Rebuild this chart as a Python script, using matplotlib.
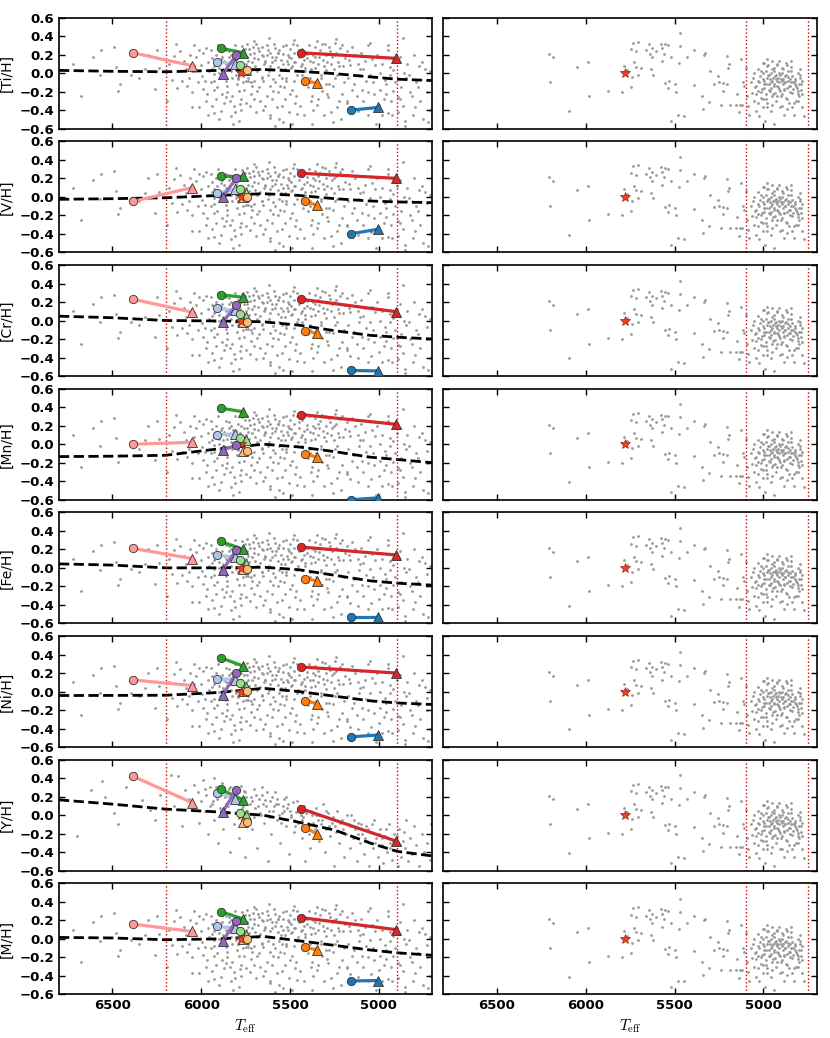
import numpy as np
import matplotlib
matplotlib.use("Agg")
import matplotlib.pyplot as plt

plt.rcParams["mathtext.fontset"] = "cm"
plt.rcParams["font.family"] = ["DejaVu Sans"]

# Rows of the figure
elements = ["Ti", "V", "Cr", "Mn", "Fe", "Ni", "Y", "M"]

# Dashed trend line, sampled at these temperatures
trend_teff = [6800, 6500, 6200, 5900, 5650, 5450, 5250, 5050, 4900, 4700]
trend_ti = [0.03, 0.02, 0.015, 0.03, 0.04, 0.02, -0.005, -0.04, -0.065, -0.08]
trend_v = [-0.027, -0.02, -0.01, 0.015, 0.034, 0.015, -0.02, -0.045, -0.055, -0.063]
trend_cr = [0.047, 0.03, 0.0, -0.005, -0.014, -0.05, -0.11, -0.16, -0.18, -0.2]
trend_mn = [-0.134, -0.13, -0.12, -0.05, 0.0, -0.03, -0.08, -0.14, -0.165, -0.2]
trend_fe = [0.043, 0.03, 0.0, 0.0, 0.007, -0.02, -0.08, -0.14, -0.165, -0.187]
trend_ni = [-0.043, -0.042, -0.04, -0.01, 0.035, 0.0, -0.05, -0.1, -0.123, -0.14]
trend_y = [0.166, 0.12, 0.066, 0.035, 0.0, -0.076, -0.16, -0.3, -0.39, -0.44]
trend_m = [0.016, 0.01, -0.009, 0.0, 0.027, -0.02, -0.07, -0.12, -0.15, -0.177]

# Highlighted stars: circle (one Teff) joined to triangle (other Teff)
pair_colors = ["#ff9896", "#aec7e8", "#2ca02c", "#98df8a", "#9467bd",
               "#ffbb78", "#ff7f0e", "#d62728", "#1f77b4"]
circ_teff = [6383, 5912, 5890, 5781, 5803, 5743, 5415, 5437, 5158]
tri_teff = [6050, 5809, 5762, 5747, 5878, 5762, 5349, 4903, 5006]

circ_ti = [0.22, 0.125, 0.27, 0.085, 0.195, 0.03, -0.085, 0.22, -0.40]
tri_ti = [0.08, 0.10, 0.22, 0.035, -0.01, 0.03, -0.105, 0.16, -0.37]
circ_v = [-0.05, 0.04, 0.22, 0.09, 0.20, 0.0, -0.05, 0.255, -0.40]
tri_v = [0.10, 0.08, 0.22, 0.045, 0.0, 0.0, -0.09, 0.20, -0.35]
circ_cr = [0.23, 0.13, 0.28, 0.075, 0.165, -0.015, -0.11, 0.23, -0.54]
tri_cr = [0.09, 0.11, 0.25, 0.04, -0.015, -0.015, -0.14, 0.095, -0.545]
circ_mn = [0.0, 0.10, 0.39, 0.065, -0.01, -0.07, -0.105, 0.32, -0.60]
tri_mn = [0.02, 0.115, 0.35, 0.045, -0.065, -0.07, -0.14, 0.215, -0.58]
circ_fe = [0.21, 0.14, 0.285, 0.085, 0.19, -0.01, -0.115, 0.225, -0.53]
tri_fe = [0.10, 0.115, 0.20, 0.045, -0.02, -0.01, -0.14, 0.14, -0.53]
circ_ni = [0.125, 0.14, 0.365, 0.095, 0.20, 0.005, -0.10, 0.265, -0.49]
tri_ni = [0.065, 0.13, 0.275, 0.05, -0.04, 0.005, -0.13, 0.20, -0.47]
circ_y = [0.42, 0.245, 0.28, 0.025, 0.27, -0.075, -0.135, 0.07, -0.75]
tri_y = [0.135, 0.18, 0.165, 0.0, 0.04, -0.075, -0.20, -0.28, -0.72]
circ_m = [0.16, 0.135, 0.295, 0.09, 0.195, 0.0, -0.09, 0.23, -0.455]
tri_m = [0.08, 0.12, 0.215, 0.045, -0.02, 0.0, -0.12, 0.10, -0.45]

# Sun
sun_teff = 5777
sun_val = 0.0

# Left-hand sample (dwarfs)
left_teff = [
    6562, 6490, 6481, 6571, 6396, 6678, 6458, 6466, 6316, 6250, 6237, 6261, 6139, 6153, 6162, 6134,
    6096, 6087, 6077, 6049, 6012, 6027, 6002, 5993, 5989, 5974, 5980, 5965, 5955, 5946, 5937, 5927,
    5918, 5909, 5899, 5890, 5880, 5871, 5862, 5852, 5843, 5834, 5824, 5815, 5805, 5796, 5787, 5777,
    5768, 5758, 5749, 5871, 5852, 5927, 5824, 5787,
    6720, 6610, 6350, 6300, 5990, 5960, 5945, 5930, 5915, 5905, 5885, 5875, 5860, 5845, 5830, 5820,
    5810, 5800, 5790, 5780, 5770, 5760, 5755, 6010, 6040, 6060, 6070, 6020, 5975, 5940, 5895, 5855,
    5840, 5810, 5795, 5775, 5765, 5750, 5900, 5820, 5960, 6050, 6110, 6120, 6180, 6190, 6040,
    5744, 5725, 5734, 5706, 5678, 5659, 5697, 5640, 5622, 5603, 5584, 5565, 5537, 5509, 5481, 5518,
    5490, 5734, 5715, 5687, 5669, 5725, 5650, 5631, 5612, 5594, 5575, 5547, 5556, 5528, 5500, 5471,
    5612, 5584, 5537, 5453, 5415, 5387, 5359, 5331, 5303, 5274, 5246, 5218, 5190, 5162, 5134, 5106,
    5077, 5049, 5021, 4993, 4965, 4937, 4862, 4833, 4777, 4730, 4721, 5425, 5378, 5350, 5321, 5284,
    5256, 5237, 5209, 5181, 5153, 5115, 5087, 5059, 5030, 5002, 4974, 4946, 4918, 4890, 4852, 4815,
    4796, 5256, 5378, 5490, 4927, 4852,
    5740, 5730, 5715, 5700, 5690, 5680, 5670, 5660, 5650, 5645, 5630, 5620, 5610, 5600, 5590, 5580,
    5570, 5560, 5550, 5540, 5530, 5520, 5510, 5500, 5495, 5480, 5470, 5460, 5450, 5440, 5430, 5420,
    5405, 5395, 5380, 5370, 5360, 5345, 5335, 5320, 5310, 5300, 5290, 5280, 5265, 5255, 5240, 5230,
    5210, 5200, 5180, 5170, 5150, 5120, 5100, 5090, 5060, 5040, 5010, 4980, 4950, 4920, 4900, 4880,
    4860, 4840, 4800, 4760, 4740,
    5735, 5720, 5705, 5690, 5675, 5660, 5640, 5625, 5615, 5600, 5585, 5570, 5560, 5545, 5535, 5520,
    5505, 5490, 5475, 5465, 5445, 5435, 5420, 5400, 5390, 5370, 5355, 5340, 5325, 5310, 5295, 5270,
    5245, 5225, 5215, 5195, 5175, 5160, 5140, 5125, 5110, 5095, 5070, 5045, 5035, 5015, 4995, 4985,
    4960, 4940, 4930, 4910, 4895, 4875, 4865, 4845, 4825, 4810, 4790, 4770, 4750, 4730, 4715, 4710,
]
left_val = [
    0.25, 0.28, 0.065, -0.02, -0.015, -0.25, -0.12, -0.19, 0.04, 0.25, 0.055, -0.175, 0.315, 0.19, -0.07, -0.16,
    0.13, 0.04, -0.14, -0.37, -0.37, 0.17, 0.086, -0.03, -0.175, 0.27, -0.085, -0.23, 0.02, -0.1, 0.165, -0.43,
    -0.28, -0.15, 0.06, -0.41, -0.23, -0.32, -0.09, -0.14, 0.24, -0.46, -0.25, -0.36, -0.015, -0.12, -0.52, -0.28,
    0.29, -0.18, -0.09, 0.13, 0.06, -0.01, -0.05, -0.19,
    0.1, 0.18, -0.05, 0.2, 0.22, 0.12, 0.25, 0.08, 0.2, 0.3, 0.18, 0.04, 0.25, 0.1, 0.2, 0.15,
    0.3, 0.08, 0.22, 0.12, 0.05, 0.18, 0.26, 0.25, 0.08, 0.2, -0.05, -0.1, -0.3, -0.35, -0.05, -0.2,
    -0.3, -0.42, -0.05, -0.4, -0.1, -0.32, -0.5, -0.55, -0.45, -0.2, -0.08, 0.24, 0.1, -0.3, 0.3,
    0.31, 0.21, 0.13, 0.28, 0.27, 0.2, 0.075, 0.13, 0.255, 0.18, 0.27, 0.22, 0.29, 0.2, 0.315, 0.13,
    0.075, -0.09, -0.14, -0.19, -0.3, -0.36, -0.09, -0.25, -0.14, -0.19, -0.37, -0.05, -0.14, -0.28, -0.23, -0.32,
    -0.48, -0.57, -0.53, 0.02, 0.055, 0.13, 0.18, 0.255, 0.31, 0.235, 0.325, 0.27, 0.165, 0.09, 0.2, 0.04,
    0.13, -0.015, 0.09, 0.0, -0.07, 0.07, 0.38, -0.015, 0.075, -0.07, -0.53, -0.12, -0.25, -0.34, -0.19, -0.26,
    -0.14, -0.37, -0.23, -0.32, -0.18, -0.41, -0.3, -0.45, -0.23, -0.34, -0.28, -0.43, -0.19, -0.26, -0.52, -0.25,
    -0.37, -0.53, -0.55, -0.55, -0.45, -0.57,
    0.18, 0.26, 0.12, 0.22, 0.32, 0.15, 0.05, 0.28, 0.19, 0.1, 0.3, 0.02, 0.22, 0.12, 0.32, 0.18,
    0.07, 0.25, 0.14, 0.21, 0.04, 0.3, 0.1, 0.26, 0.16, 0.22, 0.12, 0.3, 0.18, 0.08, 0.26, 0.14,
    0.21, 0.3, 0.05, 0.2, 0.28, 0.1, 0.17, 0.32, 0.08, 0.2, 0.12, 0.28, 0.18, 0.04, 0.22, 0.12,
    0.3, 0.08, 0.24, 0.14, 0.28, 0.1, 0.22, 0.05, 0.3, 0.15, 0.2, 0.1, 0.25, 0.03, 0.12, 0.18,
    0.0, 0.1, 0.2, 0.12, 0.05,
    -0.05, -0.22, -0.08, -0.42, -0.15, -0.05, -0.35, -0.02, -0.45, -0.28, -0.1, -0.2, -0.02, -0.35, -0.15, -0.05,
    -0.42, -0.18, -0.08, -0.25, -0.35, -0.02, -0.45, -0.15, -0.05, -0.4, -0.1, -0.28, -0.02, -0.45, -0.12, -0.42,
    -0.05, -0.3, -0.5, -0.1, -0.05, -0.38, -0.12, -0.25, -0.02, -0.18, -0.08, -0.38, -0.1, -0.55, -0.18, -0.45,
    -0.12, -0.02, -0.3, -0.1, -0.42, -0.15, -0.35, -0.05, -0.2, -0.45, -0.1, -0.3, -0.5, -0.2, -0.4, 0.02,
]
# denser core of the dwarf sample
left_core_teff = [
    5940, 5925, 5910, 5898, 5886, 5872, 5858, 5846, 5832, 5818, 5806, 5792, 5778, 5762, 5748, 5732,
    5718, 5702, 5688, 5672, 5658, 5642, 5628, 5612, 5598, 5582, 5568, 5552, 5538, 5522, 5508, 5492,
    5478, 5462, 5448, 5432, 5418, 5402, 5388, 5372, 5358, 5342, 5328, 5312, 5298, 5282, 5268, 5252,
    5238, 5222, 5620, 5480, 5350, 5240, 5700, 5050, 4950, 5930, 5860, 5780, 5700, 5650, 5560, 5460,
    5380, 5290, 5180, 5060, 4960, 4880, 4780,
]
left_core_val = [
    0.05, -0.08, 0.12, 0.0, 0.15, -0.02, 0.1, 0.18, 0.02, 0.08, 0.14, -0.06, 0.2, 0.0, 0.1, 0.06,
    -0.1, 0.16, 0.02, 0.24, -0.04, 0.12, 0.2, 0.08, -0.06, 0.14, 0.22, 0.04, 0.1, -0.08, 0.18, 0.06,
    0.12, -0.02, 0.24, 0.1, 0.02, 0.16, -0.1, 0.12, 0.06, 0.22, -0.05, 0.14, 0.03, -0.12, 0.1, 0.2,
    -0.02, 0.08, 0.38, 0.36, 0.35, 0.37, 0.35, 0.33, 0.3, -0.18, -0.26, -0.33, -0.28, -0.4, -0.5, -0.44,
    -0.3, -0.22, -0.3, -0.2, -0.22, -0.28, -0.15,
]

# [Y/H] has its own, steeper cloud
ycloud_teff = [
    6700, 6620, 6560, 6540, 6490, 6470, 6420, 6330, 6290, 6260, 6230, 6170, 6150, 6130, 6110, 6090,
    6070, 6050, 6040, 6020, 6010, 6000, 5990, 5980, 5970, 5960, 5950, 5940, 5930, 5920, 5910, 5905,
    5895, 5885, 5875, 5865, 5855, 5845, 5835, 5825, 5815, 5805, 5795, 5785, 5775, 5765, 5755, 5745,
    5735, 5725, 5715, 5705, 5695, 5685, 5675, 5665, 5655, 5645, 5635, 5625, 5615, 5605, 5595, 5585,
    5575, 5565, 5555, 5545, 5535, 5525, 5515, 5505, 5495, 5485, 5475, 5465, 5455, 5445, 5435, 5425,
    5415, 5405, 5395, 5385, 5375, 5365, 5355, 5345, 5335, 5325, 5315, 5305, 5295, 5285, 5275, 5265,
    5255, 5245, 5235, 5225, 5215, 5205, 5195, 5185, 5175, 5165, 5155, 5145, 5135, 5125, 5115, 5105,
    5095, 5085, 5075, 5065, 5055, 5045, 5035, 5025, 5015, 5005, 4995, 4985, 4975, 4965, 4955, 4945,
    4935, 4925, 4915, 4905, 4895, 4885, 4875, 4865, 4855, 4845, 4835, 4825, 4815, 4805, 4790, 4775,
    4760, 4745, 4730, 4715, 4705,
    5980, 5950, 5925, 5890, 5860, 5840, 5810, 5780, 5760, 5740, 5720, 5700, 5680, 5660, 5640, 5620,
    5600, 5580, 5560, 5540, 5520, 5500, 5480, 5460, 5440, 5420, 5400, 5380, 5360, 5340, 5320, 5300,
    5280, 5260, 5240, 5220, 5200, 5180, 5160, 5140, 5120, 5100, 5080, 5060, 5040, 5020, 5000, 4980,
    4960, 4940, 4920, 4900, 4880, 4860,
    5935, 5915, 5890, 5868, 5850, 5828, 5808, 5790, 5772, 5752, 5730, 5712, 5690, 5670, 5652, 5632,
    5612, 5592, 5572, 5552, 5532, 5512, 5492, 5472, 5452, 5432, 5412, 5392, 5372, 5352,
]
ycloud_val = [
    -0.23, 0.27, 0.37, 0.2, 0.02, -0.1, 0.3, 0.16, 0.06, -0.05, 0.22, 0.43, 0.1, 0.42, -0.12, 0.27,
    0.18, 0.06, 0.33, 0.25, -0.08, 0.15, 0.38, 0.05, 0.22, -0.2, 0.3, 0.12, -0.05, 0.26, 0.18, -0.3,
    0.08, 0.35, -0.15, 0.2, 0.02, 0.28, -0.4, 0.14, -0.1, 0.25, 0.06, -0.25, 0.32, 0.1, -0.45, 0.2,
    0.02, 0.12, -0.15, 0.28, 0.08, -0.35, 0.18, 0.0, 0.22, -0.08, 0.1, -0.5, 0.15, -0.2, 0.05, 0.25,
    -0.05, 0.12, -0.3, 0.02, 0.18, -0.12, 0.08, -0.42, -0.02, 0.14, -0.18, 0.04, -0.08, 0.1, -0.25, -0.02,
    -0.5, 0.06, -0.12, -0.35, 0.0, -0.18, 0.08, -0.05, -0.28, -0.1, 0.12, -0.4, -0.15, 0.02, -0.22, -0.08,
    -0.55, -0.12, 0.05, -0.3, -0.18, -0.05, -0.45, -0.2, -0.1, -0.35, 0.0, -0.25, -0.15, -0.5, -0.08, -0.3,
    -0.2, -0.42, -0.12, -0.28, -0.55, -0.18, -0.35, -0.05, -0.25, -0.45, -0.15, -0.32, -0.52, -0.22, -0.4, -0.1,
    -0.3, -0.48, -0.2, -0.38, -0.55, -0.15, -0.45, -0.28, -0.35, -0.05, -0.5, -0.25, -0.42, -0.12, -0.32, -0.55,
    -0.2, -0.4, -0.3, -0.48, -0.1,
    0.28, 0.1, 0.4, 0.22, 0.12, 0.3, 0.2, 0.15, 0.26, 0.05, 0.2, -0.02, 0.1, 0.3, 0.16, 0.05,
    0.2, 0.12, 0.0, 0.1, 0.2, 0.05, -0.05, 0.15, 0.0, 0.1, -0.08, 0.05, -0.15, 0.0, -0.05, 0.05,
    -0.12, -0.02, -0.18, -0.08, -0.15, 0.0, -0.12, -0.05, -0.2, -0.1, -0.25, -0.15, -0.1, -0.3, -0.2, -0.25,
    -0.15, -0.35, -0.28, -0.22, -0.32, -0.18,
    0.15, 0.3, 0.05, 0.25, 0.1, 0.22, 0.02, 0.18, 0.08, 0.25, -0.05, 0.15, 0.22, 0.02, 0.12, 0.25,
    -0.02, 0.1, 0.18, -0.08, 0.05, 0.12, 0.0, -0.12, 0.08, -0.05, 0.02, -0.2, -0.08, 0.0,
]

# Right-hand sample (giants)
right_teff = [
    6205, 6186, 6201, 6093, 6051, 5986, 5980, 5873, 5793, 5768, 5783, 5740, 5744, 5727, 5746, 5733,
    5708, 5714, 5690, 5718, 5708, 5661, 5646, 5639, 5628, 5624, 5633, 5620, 5605, 5577, 5568, 5558,
    5553, 5534, 5571, 5521, 5555, 5530, 5534, 5498, 5493, 5474, 5468, 5468, 5431, 5393, 5390, 5343,
    5339, 5333, 5330, 5305, 5301, 5277, 5253, 5249, 5240, 5230, 5225, 5206, 5197, 5193, 5202, 5189,
    5155, 5146, 5131, 5137, 5127, 5114, 5118, 5107, 5478, 5446, 5521,
    5099, 5090, 5084, 5080, 5071, 5062, 5052, 5052, 5043, 5033, 5028, 5024, 5015, 5015, 5005, 5005,
    4999, 4996, 4990, 4986, 4983, 4977, 4977, 4972, 4968, 4964, 4958, 4958, 4953, 4949, 4943, 4940,
    4940, 4934, 4930, 4925, 4921, 4915, 4911, 4908, 4902, 4897, 4893, 4889, 4883, 4878, 4874, 4870,
    4865, 4859, 4855, 4852, 4846, 4840, 4837, 4827, 4822, 4818, 4808, 4803, 4795, 4790, 4784, 4780,
    4771,
    5020, 5009, 4994, 4983, 4970, 4962, 4955, 4947, 4941, 4936, 4928, 4923, 4917, 4910, 4904, 4898,
    4891, 4885, 4880, 4872, 4863, 4853, 4844, 4833, 4825, 4814, 4799, 5043, 5033, 5002, 4977, 4949,
    4921, 4893, 4865, 4837, 4808, 5005, 4977, 4949, 4911, 4874, 4846, 4795, 4780,
    5060, 5050, 5040, 5030, 5022, 5012, 5004, 4996, 4988, 4980, 4972, 4966, 4958, 4950, 4944, 4938,
    4930, 4924, 4916, 4908, 4902, 4896, 4888, 4882, 4876, 4868, 4862, 4856, 4848, 4842, 4834, 4828,
    4820, 4812, 4806, 4798, 4792, 4786,
]
right_val = [
    0.21, 0.17, -0.10, -0.41, 0.07, 0.12, -0.25, -0.19, -0.2, 0.03, 0.08, -0.04, -0.15, 0.12, 0.26, 0.33,
    0.34, 0.24, 0.06, 0.07, -0.015, 0.25, 0.31, 0.21, 0.17, 0.27, 0.04, -0.015, 0.24, 0.32, 0.27, 0.21,
    0.31, 0.3, 0.13, 0.17, -0.105, -0.09, -0.16, -0.12, -0.2, 0.11, 0.43, 0.29, 0.17, 0.25, -0.13, -0.25,
    -0.39, 0.2, 0.22, -0.31, 0.02, -0.115, -0.03, -0.1, -0.34, -0.19, -0.11, 0.19, 0.06, 0.1, -0.12, -0.34,
    -0.34, -0.22, -0.34, -0.42, 0.15, -0.1, -0.34, -0.14, -0.45, -0.46, -0.52,
    0.06, -0.25, -0.36, -0.45, -0.1, -0.21, 0.0, -0.3, -0.41, -0.08, -0.19, -0.46, 0.02, -0.27, -0.06, -0.37,
    0.11, -0.16, -0.52, 0.02, -0.23, -0.05, -0.32, 0.09, -0.12, -0.19, 0.0, -0.41, -0.08, -0.25, 0.06, -0.14,
    -0.55, -0.03, -0.3, -0.08, 0.09, -0.17, 0.0, -0.37, -0.06, -0.23, 0.06, -0.12, -0.45, -0.03, -0.27, 0.09,
    -0.16, 0.02, -0.32, -0.06, 0.07, -0.21, -0.03, -0.45, -0.12, -0.3, 0.0, -0.19, -0.05, -0.12, -0.37, -0.23,
    -0.46,
    -0.03, -0.17, -0.08, -0.12, -0.02, -0.06, -0.16, -0.05, 0.02, -0.21, -0.02, -0.14, -0.05, -0.1, -0.19, 0.0,
    -0.06, -0.17, -0.1, -0.02, -0.08, -0.14, -0.1, -0.17, -0.06, -0.14, -0.25, -0.14, -0.32, -0.28, -0.37, -0.34,
    -0.25, -0.36, -0.39, -0.37, -0.3, 0.11, 0.15, 0.13, 0.13, 0.11, 0.13, 0.04, -0.08,
    -0.05, -0.15, -0.22, 0.05, -0.1, -0.2, 0.0, -0.12, -0.28, 0.08, -0.02, -0.18, -0.1, 0.04, -0.22, -0.12,
    -0.06, 0.1, -0.15, -0.02, -0.25, -0.08, 0.04, -0.18, -0.1, -0.28, -0.04, -0.14, -0.2, 0.02, -0.1, -0.32,
    -0.08, -0.16, -0.22, -0.12, -0.02, -0.18,
]

trends = [trend_ti, trend_v, trend_cr, trend_mn, trend_fe, trend_ni, trend_y, trend_m]
circles = [circ_ti, circ_v, circ_cr, circ_mn, circ_fe, circ_ni, circ_y, circ_m]
triangles = [tri_ti, tri_v, tri_cr, tri_mn, tri_fe, tri_ni, tri_y, tri_m]

dwarf_teff = left_teff + left_core_teff
dwarf_val = left_val + left_core_val

fig, axes = plt.subplots(8, 2, figsize=(8.3, 10.38), dpi=100)
fig.subplots_adjust(left=0.071, right=0.984, top=0.983, bottom=0.042,
                    wspace=0.03, hspace=0.114)

for i, el in enumerate(elements):
    axl, axr = axes[i]

    # left: dwarfs + highlighted stars
    if el == "Y":
        axl.scatter(ycloud_teff, ycloud_val, s=4, color="0.6", lw=0, zorder=1)
    else:
        axl.scatter(dwarf_teff, dwarf_val, s=4, color="0.6", lw=0, zorder=1)
    axl.plot(trend_teff, trends[i], "k--", lw=2, zorder=2)
    for xv in [6200, 4900]:
        axl.axvline(xv, color="#cc0000", ls=":", lw=1, zorder=2)

    for j, c in enumerate(pair_colors):
        axl.plot([circ_teff[j], tri_teff[j]], [circles[i][j], triangles[i][j]],
                 "-", color=c, lw=2.3, zorder=3)
    for j, c in enumerate(pair_colors):
        axl.plot(tri_teff[j], triangles[i][j], "^", color=c, mec="0.2",
                 mew=0.6, ms=6.5, zorder=4)
    axl.plot(sun_teff, sun_val, "*", color="#e8461e", mec="#a02010",
             mew=0.5, ms=7, zorder=5)
    for j, c in enumerate(pair_colors):
        axl.plot(circ_teff[j], circles[i][j], "o", color=c, mec="0.2",
                 mew=0.6, ms=6, zorder=6)

    # right: giants
    axr.scatter(right_teff, right_val, s=4, color="0.6", lw=0, zorder=1)
    for xv in [5100, 4750]:
        axr.axvline(xv, color="#cc0000", ls=":", lw=1, zorder=2)
    axr.plot(sun_teff, sun_val, "*", color="#e8461e", mec="#a02010",
             mew=0.5, ms=7, zorder=4)

    for ax in (axl, axr):
        ax.set_xlim(6800, 4700)
        ax.set_ylim(-0.6, 0.6)
        ax.set_xticks([6500, 6000, 5500, 5000])
        ax.set_yticks(np.arange(-0.6, 0.61, 0.2))
        ax.tick_params(direction="in", top=True, right=True, length=4,
                       width=1, labelsize=9.5)
        for sp in ax.spines.values():
            sp.set_linewidth(1.2)
        if i < 7:
            ax.set_xticklabels([])
        else:
            ax.set_xlabel(r"$T_{\rm eff}$", fontsize=11)
            for lab in ax.get_xticklabels():
                lab.set_fontweight("bold")

    axl.set_yticklabels(["\u22120.6", "\u22120.4", "\u22120.2", "0.0", "0.2", "0.4", "0.6"],
                        fontweight="bold")
    axr.set_yticklabels([])
    axl.set_ylabel("[" + el + "/H]", fontsize=10)

plt.savefig("out.png", dpi=100)
